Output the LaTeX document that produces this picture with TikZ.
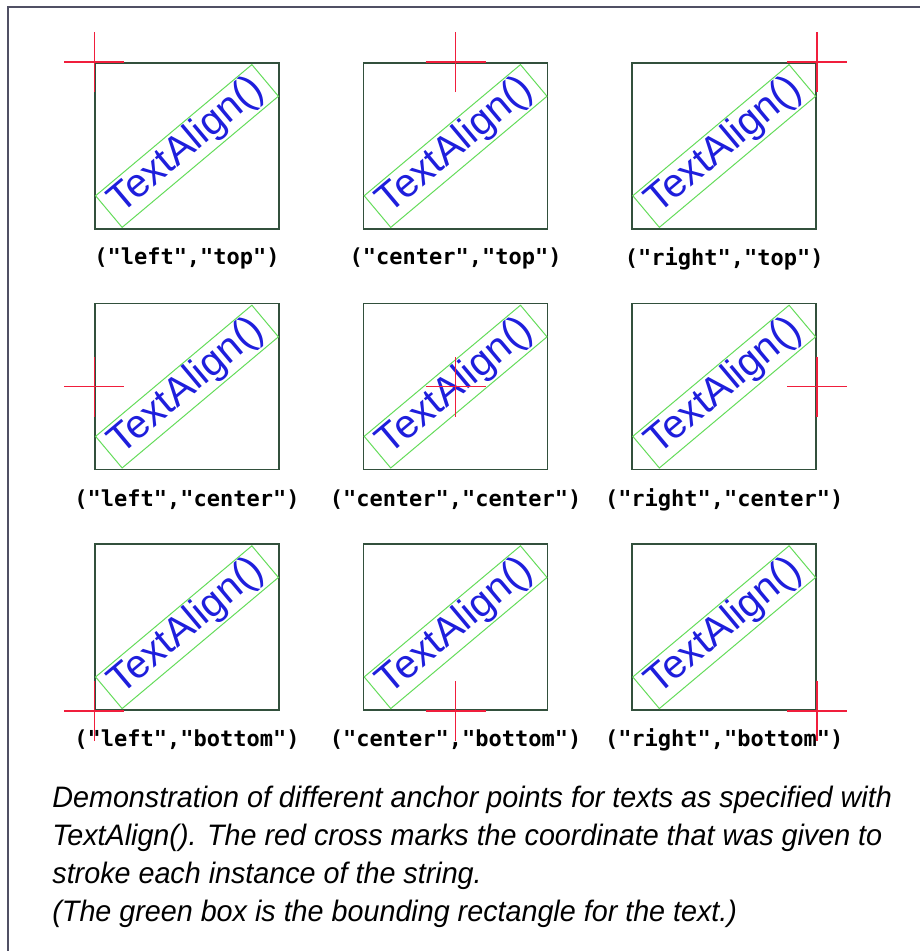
\documentclass[tikz,border=0pt]{standalone}
\usepackage{fontspec}
\setmainfont{Liberation Sans}
\newfontfamily\monofnt{DejaVu Sans Mono}
\newfontfamily\narrowfnt[FakeStretch=0.97]{Liberation Sans}
\usepackage{tikz}
\usetikzlibrary{positioning, calc}

\definecolor{framegray}{RGB}{80,80,100}
\definecolor{boxline}{RGB}{50,80,60}
\definecolor{crossred}{RGB}{240,30,60}
\definecolor{boundgreen}{RGB}{100,220,90}
\definecolor{textblue}{RGB}{30,30,220}

\begin{document}
\begin{tikzpicture}[
    x=0.5pt, y=0.5pt,
    node distance=36.5pt and 41.5pt,
    % Square demo cell (thin dark frame)
    cell/.style={
        draw=boxline,
        line width=0.8pt,
        inner sep=0pt,
        minimum width=92pt,
        minimum height=83pt
    },
    % Rotated sample string with its green bounding rectangle
    demotext/.style={
        draw=boundgreen,
        line width=0.5pt,
        text=textblue,
        rotate=40,
        font=\fontsize{20}{20}\selectfont,
        inner xsep=3pt,
        inner ysep=1pt,
        minimum width=102pt,
        minimum height=20.5pt
    },
    % Red anchor cross
    cross/.style={
        draw=crossred,
        line width=0.7pt
    },
    % Alignment label under each cell
    alignlabel/.style={
        font=\monofnt\bfseries\fontsize{11}{11}\selectfont,
        inner sep=0pt
    },
    % Caption text at the bottom
    note/.style={
        font=\narrowfnt\itshape\fontsize{14.8}{19}\selectfont,
        align=left,
        anchor=north west,
        inner sep=0pt
    },
    frame/.style={
        draw=framegray,
        line width=1.2pt
    }
]

\useasboundingbox (0,0) rectangle (920,-951);
\draw[frame] (8,-951) -- (8,-7) -- (920,-7);

% --- ROW 1: top anchors ---
\node[cell] (box11) at (187,-146) {};
\node[cell, right=of box11] (box12) {};
\node[cell, right=of box12] (box13) {};

% --- ROW 2: center anchors ---
\node[cell, below=of box11] (box21) {};
\node[cell, right=of box21] (box22) {};
\node[cell, right=of box22] (box23) {};

% --- ROW 3: bottom anchors ---
\node[cell, below=of box21] (box31) {};
\node[cell, right=of box31] (box32) {};
\node[cell, right=of box32] (box33) {};

% Sample strings
\node[demotext] (txt11) at (box11.center) {TextAlign()};
\node[demotext] (txt12) at (box12.center) {TextAlign()};
\node[demotext] (txt13) at (box13.center) {TextAlign()};
\node[demotext] (txt21) at (box21.center) {TextAlign()};
\node[demotext] (txt22) at (box22.center) {TextAlign()};
\node[demotext] (txt23) at (box23.center) {TextAlign()};
\node[demotext] (txt31) at (box31.center) {TextAlign()};
\node[demotext] (txt32) at (box32.center) {TextAlign()};
\node[demotext] (txt33) at (box33.center) {TextAlign()};

% Anchor crosses
\draw[cross] (box11.north west) ++(-30,0) -- ++(60,0) (box11.north west) ++(0,-30) -- ++(0,60);
\draw[cross] (box12.north) ++(-30,0) -- ++(60,0) (box12.north) ++(0,-30) -- ++(0,60);
\draw[cross] (box13.north east) ++(-30,0) -- ++(60,0) (box13.north east) ++(0,-30) -- ++(0,60);
\draw[cross] (box21.west) ++(-30,0) -- ++(60,0) (box21.west) ++(0,-30) -- ++(0,60);
\draw[cross] (box22.center) ++(-30,0) -- ++(60,0) (box22.center) ++(0,-30) -- ++(0,60);
\draw[cross] (box23.east) ++(-30,0) -- ++(60,0) (box23.east) ++(0,-30) -- ++(0,60);
\draw[cross] (box31.south west) ++(-30,0) -- ++(60,0) (box31.south west) ++(0,-30) -- ++(0,60);
\draw[cross] (box32.south) ++(-30,0) -- ++(60,0) (box32.south) ++(0,-30) -- ++(0,60);
\draw[cross] (box33.south east) ++(-30,0) -- ++(60,0) (box33.south east) ++(0,-30) -- ++(0,60);

% Labels
\node[alignlabel] (lab11) at ([yshift=-14.5pt]box11.south) {("left","top")};
\node[alignlabel] (lab12) at ([yshift=-14.5pt]box12.south) {("center","top")};
\node[alignlabel] (lab13) at ([yshift=-14.5pt]box13.south) {("right","top")};
\node[alignlabel] (lab21) at ([yshift=-14.5pt]box21.south) {("left","center")};
\node[alignlabel] (lab22) at ([yshift=-14.5pt]box22.south) {("center","center")};
\node[alignlabel] (lab23) at ([yshift=-14.5pt]box23.south) {("right","center")};
\node[alignlabel] (lab31) at ([yshift=-14.5pt]box31.south) {("left","bottom")};
\node[alignlabel] (lab32) at ([yshift=-14.5pt]box32.south) {("center","bottom")};
\node[alignlabel] (lab33) at ([yshift=-14.5pt]box33.south) {("right","bottom")};

% Caption
\node[note] (caption) at (52,-786) {
    Demonstration of different anchor points for texts as specified with\\
    TextAlign(). The red cross marks the coordinate that was given to\\
    stroke each instance of the string.\\
    (The green box is the bounding rectangle for the text.)
};

\end{tikzpicture}
\end{document}
